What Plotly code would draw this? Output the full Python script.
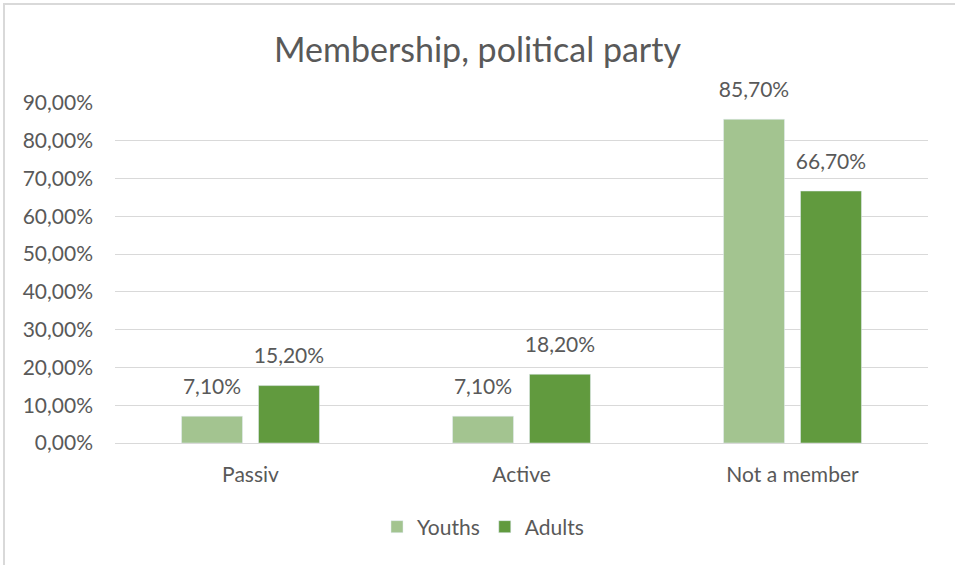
import plotly.graph_objects as go

categories = ["Passiv", "Active", "Not a member"]
youths = [7.1, 7.1, 85.7]
adults = [15.2, 18.2, 66.7]
series_names = ["Youths", "Adults"]
tick_vals = [0, 10, 20, 30, 40, 50, 60, 70, 80, 90]
tick_text = ["0,00%", "10,00%", "20,00%", "30,00%", "40,00%", "50,00%",
             "60,00%", "70,00%", "80,00%", "90,00%"]

font_family = "Lato, 'Open Sans', sans-serif"
txt = "#595959"
fs = 21

fig = go.Figure()
for name, vals, col in [(series_names[0], youths, "#A3C490"), (series_names[1], adults, "#619A3E")]:
    fig.add_trace(go.Bar(
        x=categories, y=vals, name=name, marker_color=col,
        offsetgroup=name, alignmentgroup="g", hoverinfo="skip",
    ))
for name, vals in [(series_names[0], youths), (series_names[1], adults)]:
    fig.add_trace(go.Scatter(
        x=categories, y=vals, mode="markers+text", showlegend=False,
        offsetgroup=name, alignmentgroup="g",
        marker=dict(size=26, opacity=0),
        texttemplate="%{y:.2f}%", textposition="top center",
        textfont=dict(size=fs, color=txt, family=font_family),
        cliponaxis=False, hoverinfo="skip",
    ))

W, H = 955, 565
L, R, T, B = 115, 27, 103, 122
pw, ph = W - L - R, H - T - B

def px(x):
    return (x - L) / pw

def py(y):
    return (H - B - y) / ph

border = dict(color="#D9D9D9", width=2)
fig.update_layout(
    width=W, height=H,
    margin=dict(l=L, r=R, t=T, b=B),
    paper_bgcolor="white", plot_bgcolor="white",
    separators=",.",
    barmode="group", bargap=0.432, bargroupgap=0.208,
    scattermode="group",
    font=dict(family=font_family, color=txt, size=fs),
    title=dict(text="Membership, political party", x=0.5, xanchor="center",
               y=1 - 50 / H, yanchor="middle",
               font=dict(size=34, color=txt, family=font_family)),
    legend=dict(orientation="h", x=px(483), xanchor="center", y=py(527), yanchor="middle",
                font=dict(size=fs, color=txt), itemwidth=30),
    xaxis=dict(showgrid=False, showline=True, linecolor="#D9D9D9", linewidth=1,
               tickfont=dict(size=fs, color=txt), ticks="", ticklabelstandoff=13),
    yaxis=dict(range=[0, 90], tickvals=tick_vals, ticktext=tick_text,
               showgrid=True, gridcolor="#D9D9D9", gridwidth=1, zeroline=False,
               showline=False, tickfont=dict(size=fs, color=txt), ticks="",
               ticklabelstandoff=21),
    shapes=[
        dict(type="line", xref="paper", yref="paper",
             x0=px(3), x1=px(960), y0=py(4), y1=py(4), line=border, layer="below"),
        dict(type="line", xref="paper", yref="paper",
             x0=px(4), x1=px(4), y0=py(3), y1=py(570), line=border, layer="below"),
    ],
)

fig.write_html("out.html", config={"displayModeBar": False},
               post_script="document.body.style.margin='0';document.body.style.overflow='hidden';")
